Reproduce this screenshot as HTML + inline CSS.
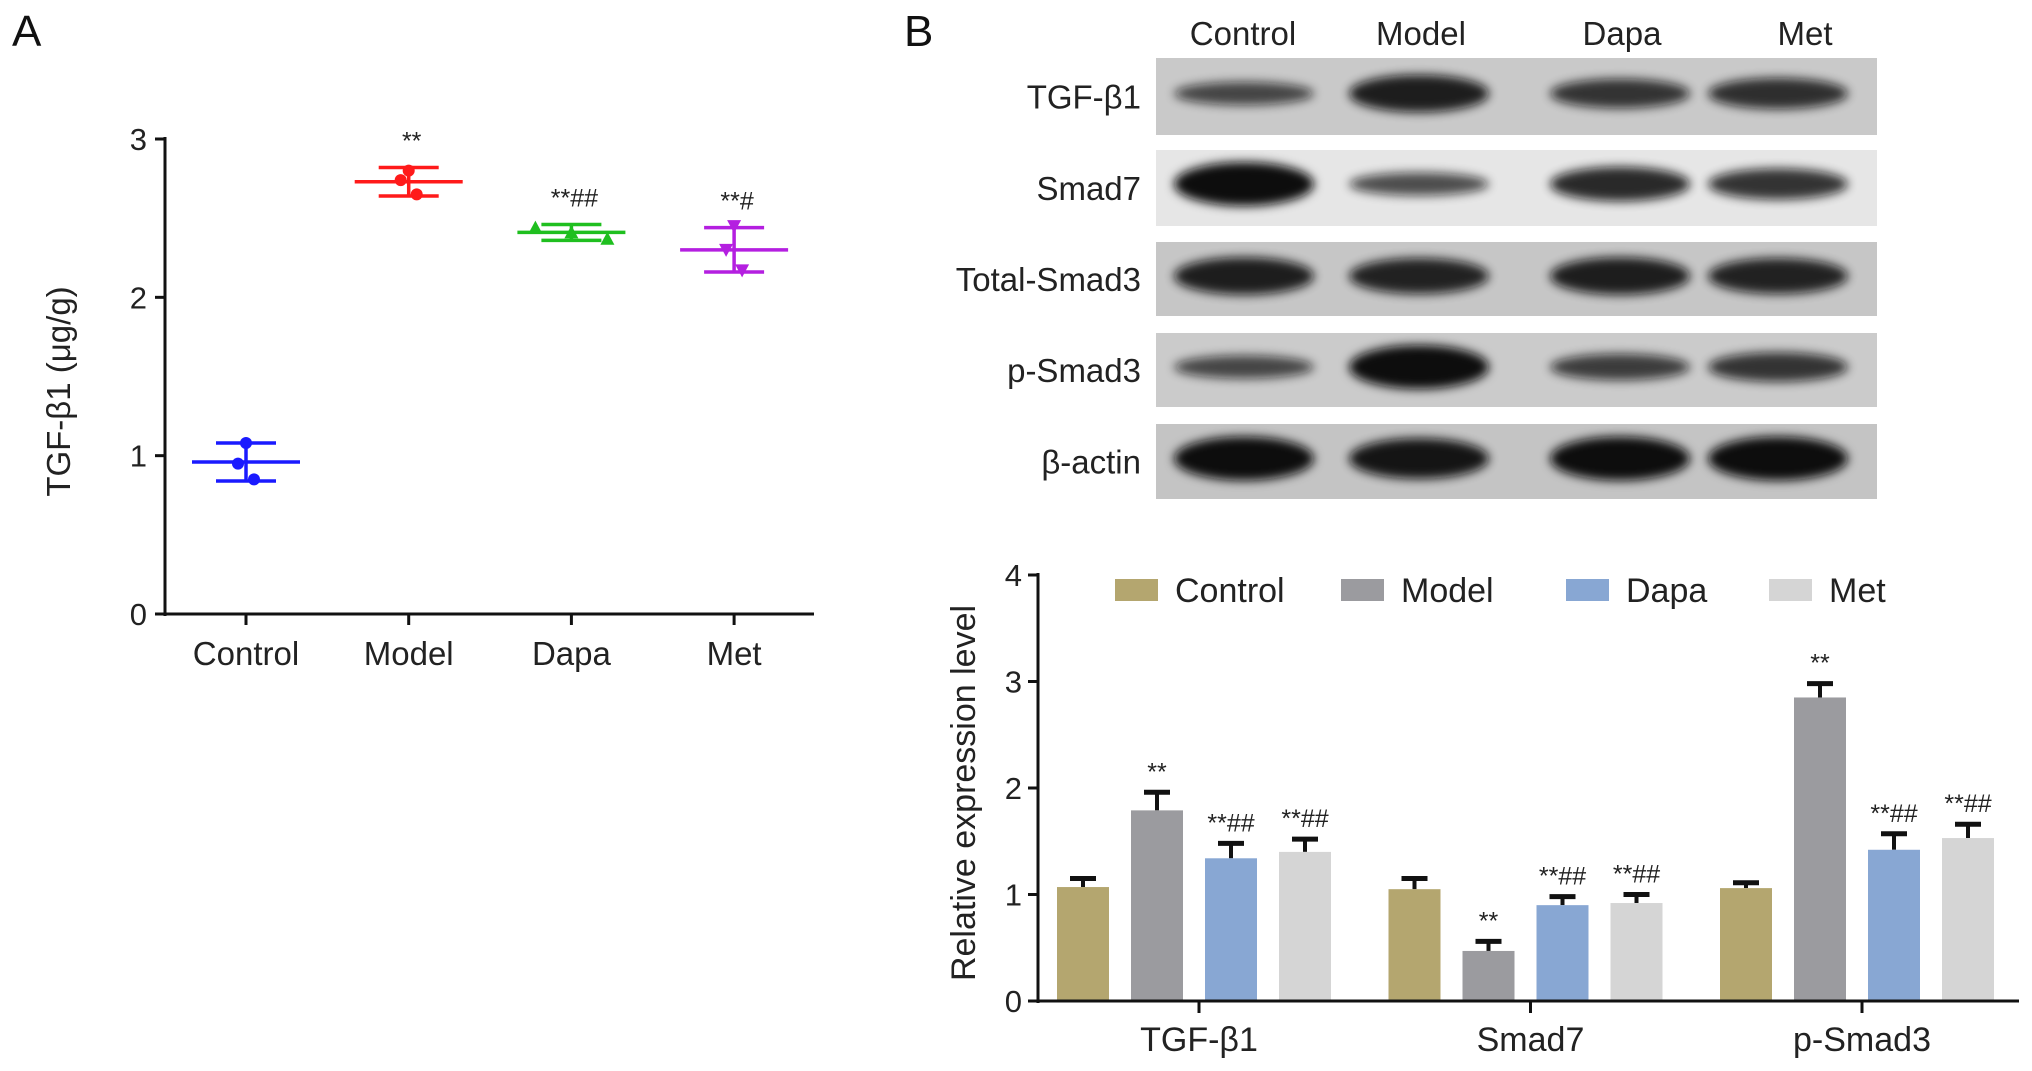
<!DOCTYPE html>
<html><head><meta charset="utf-8">
<style>
html,body{margin:0;padding:0;background:#fff;}
svg{display:block;font-family:"Liberation Sans",Arial,sans-serif;}
</style></head>
<body>
<svg id="fig" width="2032" height="1071" viewBox="0 0 2032 1071" xmlns="http://www.w3.org/2000/svg">
<defs>
<filter id="blur" x="-20%" y="-50%" width="140%" height="200%"><feGaussianBlur stdDeviation="5"/></filter>
</defs>
<text x="12" y="46" font-size="44" fill="#111">A</text>
<text x="904" y="46" font-size="44" fill="#111">B</text>
<g id="chartA"></g>
<g id="blots"></g>
<g id="chartB"></g>
</svg>
<script>
// ---------- Panel A data ----------
const aCategories = ["Control","Model","Dapa","Met"];
const aMeans = [0.96, 2.73, 2.41, 2.30];
const aSD = [0.12, 0.09, 0.05, 0.14];
const aPoints = [[1.08,0.95,0.85],[2.80,2.74,2.65],[2.44,2.41,2.37],[2.45,2.30,2.17]];
const aColors = ["#1a1aff","#ff1a1a","#1fbf1f","#b41fe0"];
const aSig = ["","**","**##","**#"];
const aYTicks = [0,1,2,3];
// ---------- Panel B data ----------
const bGroups = ["TGF-β1","Smad7","p-Smad3"];
const bSeries = ["Control","Model","Dapa","Met"];
const bControl = [1.07,1.05,1.06];
const bModel = [1.79,0.47,2.85];
const bDapa = [1.34,0.90,1.42];
const bMet = [1.40,0.92,1.53];
const bErrControl = [0.08,0.10,0.05];
const bErrModel = [0.17,0.09,0.13];
const bErrDapa = [0.14,0.08,0.15];
const bErrMet = [0.12,0.08,0.13];
const bSigControl = ["","",""];
const bSigModel = ["**","**","**"];
const bSigDapa = ["**##","**##","**##"];
const bSigMet = ["**##","**##","**##"];
const bYTicks = [0,1,2,3,4];
const bColors = ["#b4a66f","#9b9b9f","#88a7d3","#d5d5d5"];
// ---------- Blot data ----------
const blotRows = ["TGF-β1","Smad7","Total-Smad3","p-Smad3","β-actin"];
const blotLanes = ["Control","Model","Dapa","Met"];
const blotThick = [[0.35,0.8,0.55,0.6],[1.0,0.35,0.7,0.6],[0.8,0.75,0.8,0.75],[0.35,1.0,0.45,0.55],[1.0,0.9,1.0,1.0]];

const NS="http://www.w3.org/2000/svg";
function mk(tag,attrs,parent,text){const e=document.createElementNS(NS,tag);for(const k in attrs)e.setAttribute(k,attrs[k]);if(text!==undefined)e.textContent=text;parent.appendChild(e);return e;}

// ---------- Panel A ----------
(function(){
const g=document.getElementById('chartA');
const x0=165,x1=814,y0=614,y3=139;
const ys=v=>y0-(v/3)*(y0-y3);
const xs=i=>246+i*162.7;
let e=mk('line',{x1:x0,y1:y3-2,x2:x0,y2:y0+2,stroke:'#111','stroke-width':3},g);


e=mk('line',{x1:x0-1,y1:y0,x2:x1,y2:y0,stroke:'#111','stroke-width':3},g);


aYTicks.forEach(t=>{
 mk('line',{x1:x0-10,y1:ys(t),x2:x0,y2:ys(t),stroke:'#111','stroke-width':3},g);
 const tx=mk('text',{x:x0-18,y:ys(t)+11,'font-size':31,'text-anchor':'end',fill:'#222'},g,String(t));
 
 
});
const yt=mk('text',{x:0,y:0,'font-size':33,'text-anchor':'middle',fill:'#222',transform:`translate(70,${(y0+y3)/2+15}) rotate(-90)`},g,"TGF-β1 (μg/g)");


aCategories.forEach((c,i)=>{
 const cx=xs(i);
 mk('line',{x1:cx,y1:y0,x2:cx,y2:y0+11,stroke:'#111','stroke-width':3},g);
 const tl=mk('text',{x:cx,y:665,'font-size':33,'text-anchor':'middle',fill:'#222'},g,c);
 
 
 const col=aColors[i];
 const grp=mk('g',{},g);
 
 
 const m=aMeans[i],s=aSD[i];
 mk('line',{x1:cx-54,y1:ys(m),x2:cx+54,y2:ys(m),stroke:col,'stroke-width':3.5},grp);
 mk('line',{x1:cx,y1:ys(m+s),x2:cx,y2:ys(m-s),stroke:col,'stroke-width':3.5},grp);
 mk('line',{x1:cx-30,y1:ys(m+s),x2:cx+30,y2:ys(m+s),stroke:col,'stroke-width':3.5},grp);
 mk('line',{x1:cx-30,y1:ys(m-s),x2:cx+30,y2:ys(m-s),stroke:col,'stroke-width':3.5},grp);
 aPoints[i].forEach((p,j)=>{
  let px=cx+[0,-8,8][j]; if(i===2) px=cx+[-36,0,36][j];
  let pt;
  if(i<2) pt=mk('circle',{cx:px,cy:ys(p),r:6,fill:col},grp);
  else if(i===2) pt=mk('path',{d:`M${px} ${ys(p)-7} L${px+7} ${ys(p)+6} L${px-7} ${ys(p)+6}Z`,fill:col},grp);
  else pt=mk('path',{d:`M${px} ${ys(p)+7} L${px+7} ${ys(p)-6} L${px-7} ${ys(p)-6}Z`,fill:col},grp);
  
  
 });
 if(aSig[i]){
  const st=mk('text',{x:cx+3,y:ys(m+s)-18,'font-size':25,'text-anchor':'middle',fill:'#222'},g,aSig[i]);
  
  
 }
});
})();

// ---------- Blots ----------
(function(){
const g=document.getElementById('blots');
const rowsY=[[58,135],[150,226],[242,316],[333,407],[424,499]];
const laneX=[1244,1419,1620,1778];
const bg=["#c9c9c9","#e6e6e6","#c6c6c6","#cbcbcb","#c4c4c4"];
blotLanes.forEach((l,i)=>{
 const t=mk('text',{x:[1243,1421,1622,1805][i],y:45,'font-size':33,'text-anchor':'middle',fill:'#222'},g,l);
 
 
});
blotRows.forEach((r,ri)=>{
 const [ya,yb]=rowsY[ri];
 const rect=mk('rect',{x:1156,y:ya,width:721,height:yb-ya,fill:bg[ri]},g);
 
 
 const lab=mk('text',{x:1141,y:(ya+yb)/2+12,'font-size':33,'text-anchor':'end',fill:'#222'},g,r);
 
 
 laneX.forEach((lx,li)=>{
  const th=blotThick[ri][li];
  const b=mk('ellipse',{cx:lx,cy:(ya+yb)/2+(ri===1?-4:-3),rx:70,ry:6+th*16,fill:'#0a0a0a',opacity:0.55+0.45*th,filter:'url(#blur)'},g);
  
  
 });
});
})();

// ---------- Panel B bar chart ----------
(function(){
const g=document.getElementById('chartB');
const x0=1038,x1=2019,y0=1001,y4=575;
const ys=v=>y0-(v/4)*(y0-y4);
const gc=i=>1199+i*331.5;
const vals=[bControl,bModel,bDapa,bMet];
const errs=[bErrControl,bErrModel,bErrDapa,bErrMet];
const sigs=[bSigControl,bSigModel,bSigDapa,bSigMet];
bYTicks.forEach(t=>{
 mk('line',{x1:x0-10,y1:ys(t),x2:x0,y2:ys(t),stroke:'#111','stroke-width':3},g);
 const tx=mk('text',{x:x0-16,y:ys(t)+11,'font-size':31,'text-anchor':'end',fill:'#222'},g,String(t));
 
 
});
const yt=mk('text',{x:0,y:0,'font-size':34,'text-anchor':'middle',fill:'#222',transform:`translate(975,${(y0+y4)/2+5}) rotate(-90)`},g,"Relative expression level");


bGroups.forEach((gr,gi)=>{
 const cx=gc(gi);
 mk('line',{x1:cx,y1:y0,x2:cx,y2:y0+12,stroke:'#111','stroke-width':3},g);
 const tl=mk('text',{x:cx,y:1051,'font-size':34,'text-anchor':'middle',fill:'#222'},g,gr);
 
 
 bSeries.forEach((s,si)=>{
  const bx=cx-142+si*74;
  const v=vals[si][gi],e=errs[si][gi];
  mk('line',{x1:bx+26,y1:ys(v),x2:bx+26,y2:ys(v+e),stroke:'#111','stroke-width':4},g);
  mk('line',{x1:bx+13,y1:ys(v+e),x2:bx+39,y2:ys(v+e),stroke:'#111','stroke-width':5},g);
  const r=mk('rect',{x:bx,y:ys(v),width:52,height:y0-ys(v),fill:bColors[si]},g);
  
  
  if(sigs[si][gi]){
   const st=mk('text',{x:bx+26,y:ys(v+e)-12,'font-size':25,'text-anchor':'middle',fill:'#222'},g,sigs[si][gi]);
   
   
  }
 });
});
let e=mk('line',{x1:x0,y1:y4-2,x2:x0,y2:y0+2,stroke:'#111','stroke-width':3},g);


e=mk('line',{x1:x0-1,y1:y0,x2:x1,y2:y0,stroke:'#111','stroke-width':3},g);


const lx=[1115,1341,1566,1769];
bSeries.forEach((s,si)=>{
 const lg=mk('g',{},g);
 
 
 mk('rect',{x:lx[si],y:579,width:43,height:22,fill:bColors[si]},lg);
 mk('text',{x:lx[si]+60,y:602,'font-size':34,fill:'#222'},lg,s);
});
})();
</script>
</body></html>
